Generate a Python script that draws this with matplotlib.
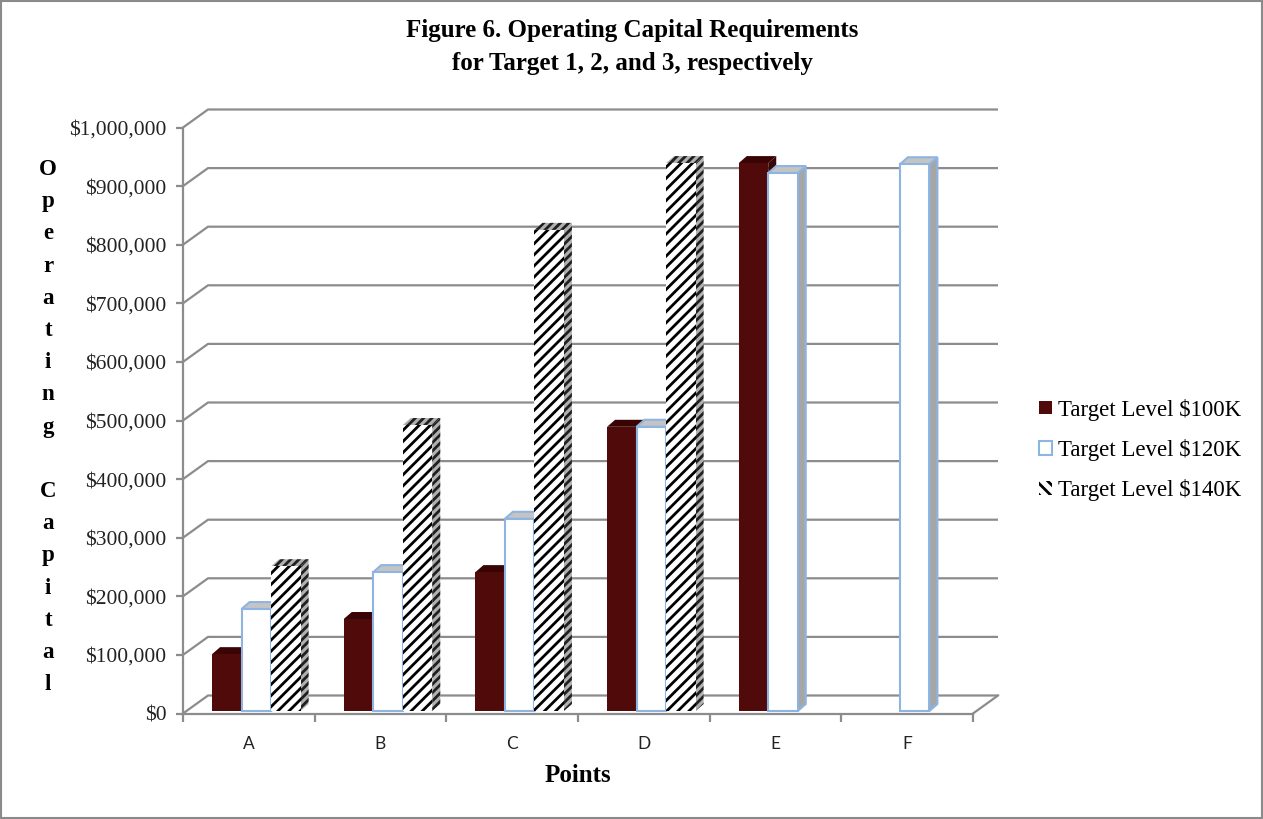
import matplotlib.pyplot as plt
import numpy as np
from matplotlib.patches import Polygon, Patch, Rectangle
from matplotlib.transforms import ScaledTranslation


points = ['A', 'B', 'C', 'D', 'E', 'F']
target_100k = [97000, 157000, 237000, 485000, 935000, 0]
target_120k = [174000, 237000, 328000, 485000, 918000, 933000]
target_140k = [247000, 488000, 821000, 935000, 0, 0]
labels = ['Target Level $100K', 'Target Level $120K', 'Target Level $140K']

plt.rcParams['hatch.linewidth'] = 2.0

W, H = 1263, 819
fig = plt.figure(figsize=(W / 100, H / 100), dpi=100)

# front plane of the 3d box, in pixels
x0px, x1px, y0px, y1px = 183, 973, 713.5, 127.5
ax = fig.add_axes([x0px / W, 1 - y0px / H, (x1px - x0px) / W, (y0px - y1px) / H])
ax.set_xlim(-0.5, 5.5)
ax.set_ylim(0, 1e6)

# pixel -> data conversion for depth offsets
ux = 6 / (x1px - x0px)
uy = 1e6 / (y0px - y1px)
wall_dx, wall_dy = 25 * ux, 18 * uy
bar_dx, bar_dy = 8 * ux, 7 * uy

grid_c = '#8c8c8c'
for v in np.arange(0, 1e6 + 1, 1e5):
    ax.plot([-0.5, -0.5 + wall_dx, 5.5 + wall_dx], [v, v + wall_dy, v + wall_dy],
            color=grid_c, lw=1.6, zorder=1, clip_on=False, solid_capstyle='butt')
ax.plot([5.5, 5.5 + wall_dx], [0, wall_dy], color=grid_c, lw=1.6, zorder=1, clip_on=False)

for s in ['top', 'right']:
    ax.spines[s].set_visible(False)
for s in ['left', 'bottom']:
    ax.spines[s].set_color(grid_c)
    ax.spines[s].set_linewidth(1.6)

# bars sit a little back from the front plane
shift = ScaledTranslation(7.5 / 100, 2.5 / 100, fig.dpi_scale_trans)
trans = ax.transData + shift

blue = '#8eb4e3'
bw = 0.224
x = np.arange(len(points))
series = [target_100k, target_120k, target_140k]
styles = [
    dict(front=dict(facecolor='#500a0a', edgecolor='#500a0a', linewidth=0),
         top=dict(facecolor='#3a0404', edgecolor='#3a0404', linewidth=0),
         side=dict(facecolor='#3a0404', edgecolor='#3a0404', linewidth=0)),
    dict(front=dict(facecolor='white', edgecolor=blue, linewidth=1.5),
         top=dict(facecolor='#c4c4c4', edgecolor=blue, linewidth=1.5),
         side=dict(facecolor='#a6a6a6', edgecolor=blue, linewidth=1.5)),
    dict(front=dict(facecolor='white', edgecolor='black', linewidth=0, hatch='///'),
         top=dict(facecolor='#b0b0b0', edgecolor='#202020', linewidth=0, hatch='////'),
         side=dict(facecolor='#b0b0b0', edgecolor='#202020', linewidth=0, hatch='////')),
]

for i, (vals, st) in enumerate(zip(series, styles)):
    xs = x + (i - 1) * bw
    ax.bar(xs, vals, bw, transform=trans, zorder=2.5 + i, clip_on=False, **st['front'])
    for xc, h in zip(xs, vals):
        if h <= 0:
            continue
        l, r = xc - bw / 2, xc + bw / 2
        top = Polygon([(l, h), (r, h), (r + bar_dx, h + bar_dy), (l + bar_dx, h + bar_dy)],
                      closed=True, transform=trans, zorder=2 + i, clip_on=False, **st['top'])
        side = Polygon([(r, 0), (r, h), (r + bar_dx, h + bar_dy), (r + bar_dx, bar_dy)],
                       closed=True, transform=trans, zorder=2 + i, clip_on=False, **st['side'])
        ax.add_patch(side)
        ax.add_patch(top)

# y axis
yt = np.arange(0, 1e6 + 1, 1e5)
ax.set_yticks(yt)
ax.set_yticklabels(['${:,.0f}'.format(v) for v in yt], fontfamily='Liberation Serif',
                   fontsize=15.5, color='#222222')
ax.tick_params(axis='y', length=5, width=1.6, color=grid_c, pad=7)

# x axis: labels at centres, ticks between categories
ax.set_xticks(x)
ax.set_xticklabels(points, fontfamily=['Lato', 'DejaVu Sans'], fontsize=12.5, color='#222222')
ax.tick_params(axis='x', length=0, pad=16)
ax.set_xticks(np.arange(-0.5, 6, 1), minor=True)
ax.tick_params(axis='x', which='minor', length=6, width=1.6, color=grid_c)

fig.text(578 / W, 1 - 776 / H, 'Points', ha='center', va='center',
         fontfamily='Liberation Serif', fontweight='bold', fontsize=18)

ylabel = '\n'.join(list('Operating')) + '\n\n' + '\n'.join(list('Capital'))
fig.text(48 / W, 1 - 427 / H, ylabel, ha='center', va='center', linespacing=1.7,
         fontfamily='Liberation Serif', fontweight='bold', fontsize=16.5)

fig.text(632 / W, 1 - 47 / H,
         'Figure 6. Operating Capital Requirements\nfor Target 1, 2, and 3, respectively',
         ha='center', va='center', linespacing=1.55,
         fontfamily='Liberation Serif', fontweight='bold', fontsize=18)

handles = [
    Patch(facecolor='#500a0a', edgecolor='#500a0a', linewidth=0),
    Patch(facecolor='white', edgecolor=blue, linewidth=1.5),
    Patch(facecolor='white', edgecolor='black', linewidth=0, hatch='\\\\\\'),
]
fig.legend(handles, labels, loc='center left', bbox_to_anchor=(1039 / W, 1 - 450 / H),
           frameon=False, prop={'family': 'Liberation Serif', 'size': 16.5},
           handlelength=0.55, handleheight=0.55, handletextpad=0.3, labelspacing=0.8,
           borderpad=0, borderaxespad=0)

fig.patches.append(Rectangle((0.001, 0.001), 0.998, 0.998, transform=fig.transFigure,
                             fill=False, edgecolor='#8a8a8a', linewidth=1.5))

fig.savefig('out.png', dpi=100)
